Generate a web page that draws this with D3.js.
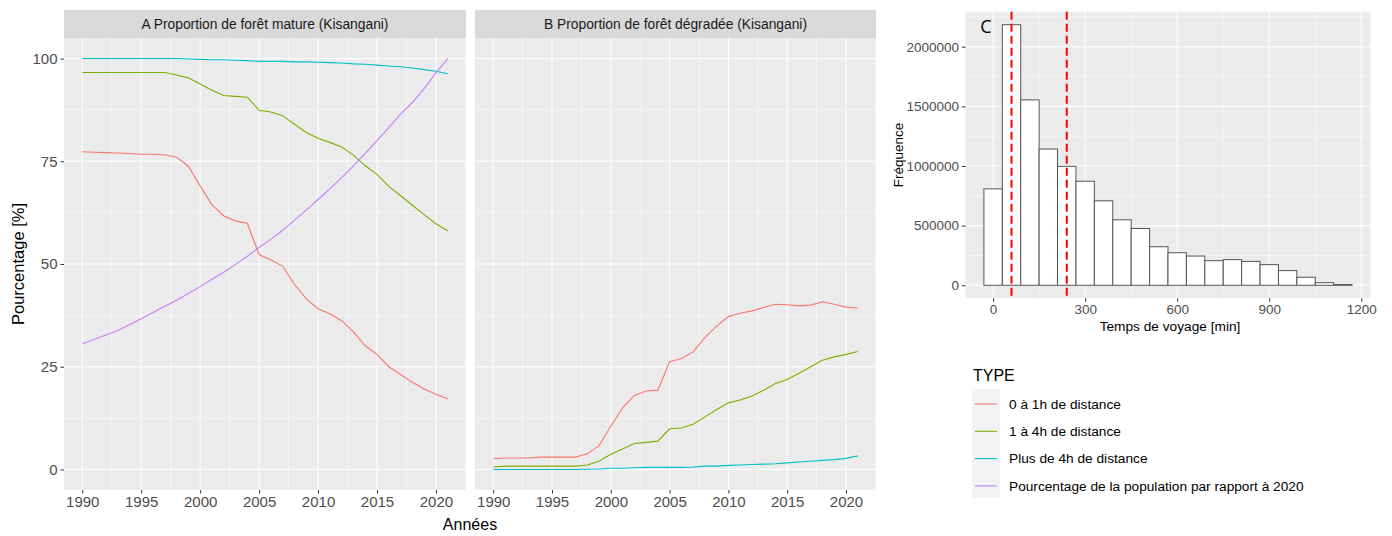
<!DOCTYPE html>
<html>
<head>
<meta charset="utf-8">
<script src="https://cdn.jsdelivr.net/npm/d3@7"></script>
<style>
  body { margin: 0; background: #fff; }
  text { font-family: "Liberation Sans", Arial, sans-serif; }
</style>
</head>
<body>
<svg id="chart" width="1392" height="536"></svg>
<script>

// Data

var years = [1990, 1991, 1992, 1993, 1994, 1995, 1996, 1997, 1998, 1999, 2000, 2001, 2002, 2003, 2004, 2005,
  2006, 2007, 2008, 2009, 2010, 2011, 2012, 2013, 2014, 2015, 2016, 2017, 2018, 2019, 2020, 2021]

// A : proportion de foret mature
var mature_0a1h = [77.3, 77.2, 77.1, 77.0, 76.9, 76.7, 76.7, 76.6, 76.0, 73.8, 69.0, 64.4, 61.7, 60.5, 59.9, 52.3,
  51.0, 49.5, 45.0, 41.5, 39.1, 37.9, 36.2, 33.5, 30.1, 28.0, 25.0, 23.1, 21.2, 19.6, 18.3, 17.2]
var mature_1a4h = [96.6, 96.6, 96.6, 96.6, 96.6, 96.6, 96.6, 96.6, 96.0, 95.3, 93.8, 92.3, 91.0, 90.8, 90.6, 87.4,
  87.0, 86.1, 84.0, 82.0, 80.6, 79.6, 78.5, 76.5, 73.9, 71.8, 68.9, 66.6, 64.3, 62.0, 59.8, 58.1]
var mature_plus4h = [100, 100, 100, 100, 100, 100, 100, 100, 100, 99.9, 99.8, 99.7, 99.7, 99.6, 99.5, 99.3,
  99.3, 99.3, 99.2, 99.2, 99.1, 99.0, 98.9, 98.7, 98.6, 98.4, 98.2, 98.0, 97.7, 97.3, 96.9, 96.3]
var population = [30.6, 31.6, 32.7, 33.8, 35.2, 36.7, 38.2, 39.7, 41.2, 42.8, 44.5, 46.3, 48.0, 49.9, 51.9, 54.0,
  56.0, 58.2, 60.6, 63.1, 65.7, 68.3, 71.0, 73.9, 76.9, 80.0, 83.2, 86.5, 89.3, 92.7, 96.5, 100.0]

// B : proportion de foret degradee
var degradee_0a1h = [2.6, 2.8, 2.8, 2.8, 3.0, 3.0, 3.0, 3.0, 3.8, 5.8, 10.5, 15.0, 18.0, 19.1, 19.3, 26.2,
  27.0, 28.6, 32.1, 34.9, 37.2, 38.0, 38.6, 39.4, 40.2, 40.1, 39.8, 40.0, 40.8, 40.2, 39.5, 39.3]
var degradee_1a4h = [0.6, 0.8, 0.8, 0.8, 0.8, 0.8, 0.8, 0.8, 1.1, 2.0, 3.7, 5.0, 6.3, 6.6, 6.9, 9.9,
  10.1, 11.0, 12.8, 14.6, 16.2, 16.9, 17.9, 19.3, 20.9, 21.9, 23.4, 25.0, 26.6, 27.4, 28.0, 28.7]
var degradee_plus4h = [0, 0, 0, 0, 0, 0, 0, 0, 0.05, 0.1, 0.3, 0.3, 0.4, 0.5, 0.5, 0.5,
  0.5, 0.6, 0.8, 0.8, 1.0, 1.1, 1.2, 1.3, 1.4, 1.6, 1.8, 2.0, 2.2, 2.4, 2.7, 3.3]

var typeLabels = ["0 à 1h de distance", "1 à 4h de distance", "Plus de 4h de distance",
  "Pourcentage de la population par rapport à 2020"]
var typeColors = ["#F8766D", "#7CAE00", "#00BFC4", "#C77CFF"]

// C : histogramme du temps de voyage
var binCentres = [0, 60, 120, 180, 240, 300, 360, 420, 480, 540, 600, 660, 720, 780, 840, 900, 960, 1020, 1080, 1140]
var binCounts = [808000, 2184000, 1554000, 1142000, 997000, 872000, 708000, 549000, 476000, 323000,
  273000, 245000, 206000, 215000, 200000, 173000, 123000, 67000, 22000, 6000]
var binWidth = 60
var seuils = [60, 240]   // lignes rouges pointillees


var svg = d3.select("#chart")

// ggplot like 5% expansion
function expand(lo, hi) {
  var e = (hi - lo) * 0.05
  return [lo - e, hi + e]
}

var yearDomain = expand(d3.min(years), d3.max(years))
var pctDomain = expand(0, 100)

var panelTop = 38, panelBottom = 490

var y = d3.scaleLinear().domain(pctDomain).range([panelBottom, panelTop])


function draw_line_panel(left, right, title, series, showY) {

  var x = d3.scaleLinear().domain(yearDomain).range([left, right])

  var g = svg.append("g").attr("class", "panel")

  // Background
  g.append("rect")
    .attr("x", left).attr("y", panelTop)
    .attr("width", right - left).attr("height", panelBottom - panelTop)
    .attr("fill", "#EBEBEB")

  // Strip
  g.append("rect")
    .attr("x", left).attr("y", 10)
    .attr("width", right - left).attr("height", panelTop - 10)
    .attr("fill", "#D9D9D9")

  g.append("text")
    .attr("x", (left + right) / 2).attr("y", 24)
    .attr("dy", "0.35em")
    .attr("text-anchor", "middle")
    .style("font-size", "13.8px")
    .attr("fill", "#1A1A1A")
    .text(title)

  // Grid (minor then major)
  var xMajor = [1990, 1995, 2000, 2005, 2010, 2015, 2020]
  var xMinor = [1992.5, 1997.5, 2002.5, 2007.5, 2012.5, 2017.5, 2022.5]
  var yMajor = [0, 25, 50, 75, 100]
  var yMinor = [12.5, 37.5, 62.5, 87.5]

  g.selectAll(".ymin").data(yMinor).enter().append("line")
    .attr("x1", left).attr("x2", right)
    .attr("y1", function (d) { return y(d) }).attr("y2", function (d) { return y(d) })
    .attr("stroke", "#fff").attr("stroke-width", 0.55)
  g.selectAll(".xmin").data(xMinor).enter().append("line")
    .attr("y1", panelTop).attr("y2", panelBottom)
    .attr("x1", function (d) { return x(d) }).attr("x2", function (d) { return x(d) })
    .attr("stroke", "#fff").attr("stroke-width", 0.55)
  g.selectAll(".ymaj").data(yMajor).enter().append("line")
    .attr("x1", left).attr("x2", right)
    .attr("y1", function (d) { return y(d) }).attr("y2", function (d) { return y(d) })
    .attr("stroke", "#fff").attr("stroke-width", 1.1)
  g.selectAll(".xmaj").data(xMajor).enter().append("line")
    .attr("y1", panelTop).attr("y2", panelBottom)
    .attr("x1", function (d) { return x(d) }).attr("x2", function (d) { return x(d) })
    .attr("stroke", "#fff").attr("stroke-width", 1.1)

  // Lines
  var line = d3.line()
    .x(function (d, i) { return x(years[i]) })
    .y(function (d) { return y(d) })

  series.forEach(function (s) {
    g.append("path")
      .datum(s.values)
      .attr("d", line)
      .attr("fill", "none")
      .attr("stroke", s.color)
      .attr("stroke-width", 1.1)
  })

  // Axes
  var xAxis = g.append("g")
    .attr("transform", "translate(0," + panelBottom + ")")
    .call(d3.axisBottom(x).tickValues(xMajor).tickFormat(d3.format("d")).tickSize(3.5).tickPadding(3))
  xAxis.select(".domain").remove()
  xAxis.selectAll("line").attr("stroke", "#333")
  xAxis.selectAll("text").style("font-size", "15px").attr("fill", "#4D4D4D")

  if (showY) {
    var yAxis = g.append("g")
      .attr("transform", "translate(" + left + ",0)")
      .call(d3.axisLeft(y).tickValues(yMajor).tickSize(3.5).tickPadding(3))
    yAxis.select(".domain").remove()
    yAxis.selectAll("line").attr("stroke", "#333")
    yAxis.selectAll("text").style("font-size", "15px").attr("fill", "#4D4D4D")
  }
}

draw_line_panel(64, 466, "A Proportion de forêt mature (Kisangani)", [
  { values: mature_0a1h, color: typeColors[0] },
  { values: mature_1a4h, color: typeColors[1] },
  { values: mature_plus4h, color: typeColors[2] },
  { values: population, color: typeColors[3] }
], true)

draw_line_panel(475, 876, "B Proportion de forêt dégradée (Kisangani)", [
  { values: degradee_0a1h, color: typeColors[0] },
  { values: degradee_1a4h, color: typeColors[1] },
  { values: degradee_plus4h, color: typeColors[2] }
], false)

// Shared axis titles
svg.append("text")
  .attr("x", 470).attr("y", 530)
  .attr("text-anchor", "middle")
  .style("font-size", "16px")
  .attr("fill", "#000")
  .text("Années")

svg.append("text")
  .attr("transform", "translate(24," + ((panelTop + panelBottom) / 2) + ") rotate(-90)")
  .attr("text-anchor", "middle")
  .style("font-size", "16.5px")
  .attr("fill", "#000")
  .text("Pourcentage [%]")


// Panel C : histogram

var cLeft = 965.5, cRight = 1370.5, cTop = 11.7, cBottom = 298.3

var xc = d3.scaleLinear()
  .domain(expand(d3.min(binCentres) - binWidth / 2, d3.max(binCentres) + binWidth / 2))
  .range([cLeft, cRight])
var yc = d3.scaleLinear()
  .domain(expand(0, d3.max(binCounts)))
  .range([cBottom, cTop])

var hist = svg.append("g").attr("class", "histogram")

hist.append("rect")
  .attr("x", cLeft).attr("y", cTop)
  .attr("width", cRight - cLeft).attr("height", cBottom - cTop)
  .attr("fill", "#EBEBEB")

var cxMajor = [0, 300, 600, 900, 1200], cxMinor = [150, 450, 750, 1050]
var cyMajor = [0, 500000, 1000000, 1500000, 2000000], cyMinor = [250000, 750000, 1250000, 1750000, 2250000]

hist.selectAll(".ymin").data(cyMinor).enter().append("line")
  .attr("x1", cLeft).attr("x2", cRight)
  .attr("y1", function (d) { return yc(d) }).attr("y2", function (d) { return yc(d) })
  .attr("stroke", "#fff").attr("stroke-width", 0.55)
hist.selectAll(".xmin").data(cxMinor).enter().append("line")
  .attr("y1", cTop).attr("y2", cBottom)
  .attr("x1", function (d) { return xc(d) }).attr("x2", function (d) { return xc(d) })
  .attr("stroke", "#fff").attr("stroke-width", 0.55)
hist.selectAll(".ymaj").data(cyMajor).enter().append("line")
  .attr("x1", cLeft).attr("x2", cRight)
  .attr("y1", function (d) { return yc(d) }).attr("y2", function (d) { return yc(d) })
  .attr("stroke", "#fff").attr("stroke-width", 1.1)
hist.selectAll(".xmaj").data(cxMajor).enter().append("line")
  .attr("y1", cTop).attr("y2", cBottom)
  .attr("x1", function (d) { return xc(d) }).attr("x2", function (d) { return xc(d) })
  .attr("stroke", "#fff").attr("stroke-width", 1.1)

// Bars
hist.selectAll(".bar")
  .data(binCounts)
  .enter()
  .append("rect")
  .attr("class", "bar")
  .attr("x", function (d, i) { return xc(binCentres[i] - binWidth / 2) })
  .attr("width", function (d, i) { return xc(binCentres[i] + binWidth / 2) - xc(binCentres[i] - binWidth / 2) })
  .attr("y", function (d) { return yc(d) })
  .attr("height", function (d) { return yc(0) - yc(d) })
  .attr("fill", "#fff")
  .attr("stroke", "#555")
  .attr("stroke-width", 1)

// Dashed red lines
hist.selectAll(".seuil")
  .data(seuils)
  .enter()
  .append("line")
  .attr("x1", function (d) { return xc(d) }).attr("x2", function (d) { return xc(d) })
  .attr("y1", cTop).attr("y2", cBottom)
  .attr("stroke", "#FF0000")
  .attr("stroke-width", 2)
  .attr("stroke-dasharray", "8,4")

hist.append("text")
  .attr("x", 986).attr("y", 32.5)
  .attr("text-anchor", "middle")
  .style("font-family", "'Open Sans', sans-serif")
  .style("font-size", "18px")
  .attr("fill", "#000")
  .text("C")

var cxAxis = hist.append("g")
  .attr("transform", "translate(0," + cBottom + ")")
  .call(d3.axisBottom(xc).tickValues(cxMajor).tickFormat(d3.format("d")).tickSize(3.5).tickPadding(3))
cxAxis.select(".domain").remove()
cxAxis.selectAll("line").attr("stroke", "#333")
cxAxis.selectAll("text").style("font-size", "13.5px").attr("fill", "#4D4D4D")

var cyAxis = hist.append("g")
  .attr("transform", "translate(" + cLeft + ",0)")
  .call(d3.axisLeft(yc).tickValues(cyMajor).tickFormat(d3.format("d")).tickSize(3.5).tickPadding(3))
cyAxis.select(".domain").remove()
cyAxis.selectAll("line").attr("stroke", "#333")
cyAxis.selectAll("text").style("font-size", "13.5px").attr("fill", "#4D4D4D")

hist.append("text")
  .attr("x", (cLeft + cRight) / 2 + 2).attr("y", 331)
  .attr("text-anchor", "middle")
  .style("font-size", "13.7px")
  .attr("fill", "#000")
  .text("Temps de voyage [min]")

hist.append("text")
  .attr("transform", "translate(903," + ((cTop + cBottom) / 2) + ") rotate(-90)")
  .attr("text-anchor", "middle")
  .style("font-size", "13.5px")
  .attr("fill", "#000")
  .text("Fréquence")


// Legend
var legend = svg.append("g").attr("class", "legend")

legend.append("text")
  .attr("x", 973).attr("y", 381)
  .style("font-size", "16px")
  .attr("fill", "#000")
  .text("TYPE")

legend.append("rect")
  .attr("x", 972).attr("y", 389)
  .attr("width", 28).attr("height", 109)
  .attr("fill", "#F2F2F2")

var rows = legend.selectAll(".row")
  .data(typeLabels)
  .enter()
  .append("g")
  .attr("transform", function (d, i) { return "translate(0," + (404 + i * 27.3) + ")" })

rows.append("line")
  .attr("x1", 975).attr("x2", 997)
  .attr("stroke", function (d, i) { return typeColors[i] })
  .attr("stroke-width", 1.1)

rows.append("text")
  .attr("x", 1009)
  .attr("dy", "0.35em")
  .style("font-size", "13.7px")
  .attr("fill", "#000")
  .text(function (d) { return d })

</script>
</body>
</html>
